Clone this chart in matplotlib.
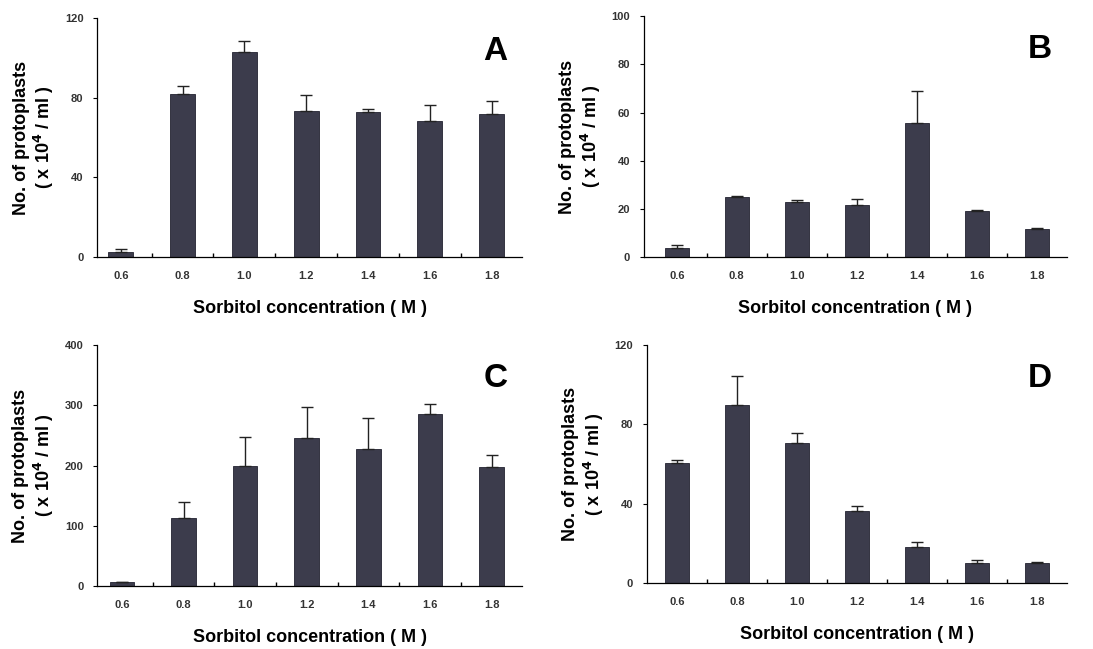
import matplotlib
matplotlib.use("Agg")
import matplotlib.pyplot as plt
import numpy as np

plt.rcParams['font.family'] = ['Liberation Sans', 'DejaVu Sans']

conc = ["0.6", "0.8", "1.0", "1.2", "1.4", "1.6", "1.8"]

a_vals = [2.5, 82, 103, 73.5, 73, 68.5, 72]
a_err = [1.5, 4, 5.5, 8, 1.5, 8, 6.5]
b_vals = [3.9, 24.9, 23, 21.5, 55.7, 19, 11.8]
b_err = [1.2, 0.6, 0.8, 2.5, 13.3, 0.7, 0.3]
c_vals = [6, 113, 199, 246, 228, 285, 198]
c_err = [1, 26, 48, 51, 52, 17, 19]
d_vals = [60.4, 89.6, 70.5, 36.4, 18.3, 10, 10]
d_err = [1.7, 15, 5, 2.5, 2.2, 1.7, 0.6]

panels = [
    ("A", a_vals, a_err, [0, 40, 80, 120], [0.089, 0.604, 0.389, 0.368], -0.38),
    ("B", b_vals, b_err, [0, 20, 40, 60, 80, 100], [0.589, 0.604, 0.387, 0.371], -0.55),
    ("C", c_vals, c_err, [0, 100, 200, 300, 400], [0.089, 0.097, 0.389, 0.371], -0.4),
    ("D", d_vals, d_err, [0, 40, 80, 120], [0.592, 0.102, 0.384, 0.366], -0.5),
]

fig = plt.figure(figsize=(10.93, 6.49), dpi=100)
bar_color = "#3c3c4c"

for letter, vals, err, yt, rect, x0 in panels:
    ax = fig.add_axes(rect)
    x = np.arange(len(conc))
    ax.bar(x, vals, width=0.4, color=bar_color, edgecolor="#222230", linewidth=0.6,
           yerr=[np.zeros(len(err)), err], capsize=4,
           error_kw=dict(ecolor="#222222", elinewidth=1.0, capthick=1.0))
    ax.set_xlim(x0, 6.5)
    ax.set_ylim(0, yt[-1])
    ax.set_yticks(yt)
    ax.set_yticklabels([str(v) for v in yt], fontsize=8, fontweight="bold", color="#333333")
    ax.set_xticks(x)
    ax.set_xticklabels(conc, fontsize=8, fontweight="bold", color="#333333")
    ax.tick_params(axis="x", length=0, pad=10)
    ax.set_xticks(np.arange(0.5, 6.0, 1.0), minor=True)
    ax.tick_params(axis="x", which="minor", length=3, direction="in", width=1)
    ax.tick_params(axis="y", length=3, width=0.8, pad=7)
    for s in ["top", "right"]:
        ax.spines[s].set_visible(False)
    ax.spines["left"].set_linewidth(0.9)
    ax.spines["bottom"].set_linewidth(0.9)
    ax.set_xlabel("Sorbitol concentration ( M )", fontsize=13, fontweight="bold", labelpad=14)
    ax.set_ylabel("No. of protoplasts\n( x 10$^\\mathbf{4}$ / ml )", fontsize=13,
                  fontweight="bold", labelpad=6, linespacing=1.15)
    ax.text(0.965, 0.86, letter, transform=ax.transAxes, fontsize=24,
            fontweight="bold", ha="right", va="center")

fig.savefig("out.png", dpi=100)
